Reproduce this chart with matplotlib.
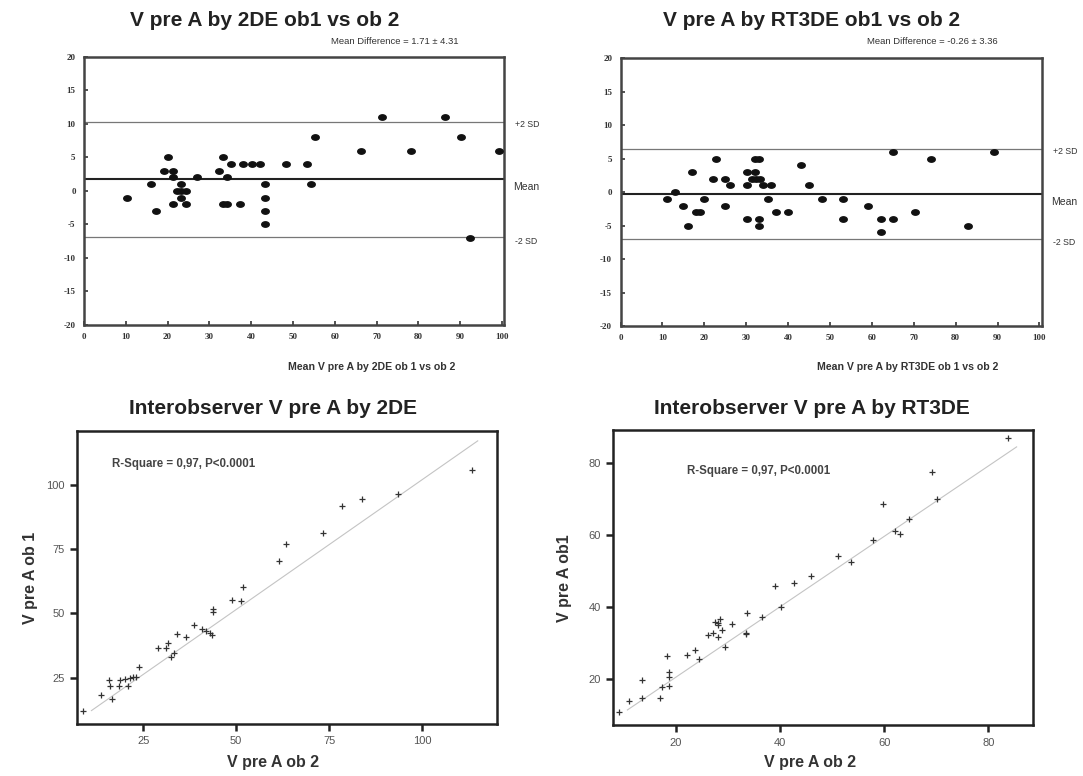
import numpy as np
import matplotlib.pyplot as plt
from matplotlib.path import Path

plt.rcParams["axes.unicode_minus"] = False

# -----------------------------
# Data
# -----------------------------
# Bland-Altman, 2DE: mean of ob1/ob2 vs difference
ba2d_mean = [10.2, 16.1, 17.2, 19.1, 20.1, 21.2, 21.2, 21.2, 23.3, 22.3, 23.3, 24.3,
             23.3, 24.3, 27.1, 32.2, 33.2, 34.2, 33.2, 34.2, 35.2, 37.4, 38.1, 40.2,
             42.1, 43.3, 43.3, 43.3, 43.3, 48.3, 53.3, 54.2, 55.2, 66.3, 71.3, 78.3,
             86.3, 90.3, 92.4, 99.3]
ba2d_diff = [-1, 1, -3, 3, 5, 3, 2, -2, 1, 0, 0, 0,
             -1, -2, 2, 3, 5, 2, -2, -2, 4, -2, 4, 4,
             4, 1, -1, -3, -5, 4, 4, 1, 8, 6, 11, 6,
             11, 8, -7, 6]
ba2d_md, ba2d_sd = 1.71, 4.31

# Bland-Altman, RT3DE
ba3d_mean = [11.0, 13.0, 15.0, 16.0, 17.1, 18.0, 19.0, 20.0, 22.0, 22.9, 25.0, 25.0,
             26.1, 30.1, 30.1, 30.1, 32.1, 32.1, 33.1, 31.3, 32.3, 33.3, 33.1, 33.1,
             34.0, 35.1, 36.0, 37.1, 40.1, 43.0, 45.1, 48.1, 53.1, 53.1, 59.0, 62.1,
             62.1, 65.0, 65.0, 70.2, 74.1, 83.0, 89.2]
ba3d_diff = [-1, 0, -2, -5, 3, -3, -3, -1, 2, 5, 2, -2,
             1, 3, 1, -4, 3, 5, 5, 2, 2, 2, -4, -5,
             1, -1, 1, -3, -3, 4, 1, -1, -1, -4, -2, -4,
             -6, 6, -4, -3, 5, -5, 6]
ba3d_md, ba3d_sd = -0.26, 3.36

# Regression, 2DE: ob2 (x) vs ob1 (y)
reg2d_x = [113.4, 93.5, 83.8, 78.3, 73.2, 63.5, 61.4, 51.7, 48.9, 51.2, 43.8, 43.8,
           38.7, 40.7, 42.0, 42.9, 43.6, 34.1, 36.5, 31.7, 31.1, 28.9, 33.2, 32.4,
           23.9, 23.2, 22.3, 21.4, 20.1, 18.7, 18.6, 20.8, 15.9, 16.1, 13.8, 16.5, 8.9]
reg2d_y = [105.6, 96.5, 94.4, 91.8, 81.4, 77.0, 70.4, 60.2, 55.3, 54.9, 51.7, 50.4,
           45.5, 43.8, 43.3, 42.5, 41.5, 42.0, 41.0, 38.6, 36.7, 36.7, 34.7, 33.2,
           29.1, 25.2, 25.2, 24.8, 24.4, 24.1, 21.8, 21.8, 24.1, 21.8, 18.3, 16.7, 12.1]
reg2d_slope, reg2d_icpt = 1.01, 1.0
reg2d_span = [11.1, 114.9]

# Regression, RT3DE
reg3d_x = [83.7, 69.1, 70.1, 59.7, 64.8, 62.1, 63.1, 57.8, 51.2, 53.6, 46.0, 42.7,
           39.1, 40.2, 33.7, 36.5, 28.5, 27.5, 28.1, 28.1, 30.7, 28.9, 27.2, 26.1,
           28.1, 33.4, 33.4, 29.5, 22.2, 23.7, 24.5, 18.4, 18.6, 18.6, 18.6, 17.4,
           13.6, 13.6, 16.9, 11.1, 9.1]
reg3d_y = [87.1, 77.6, 70.0, 68.6, 64.4, 61.2, 60.3, 58.6, 54.2, 52.4, 48.7, 46.8,
           45.8, 39.9, 38.2, 37.1, 36.6, 35.9, 35.6, 35.0, 35.3, 33.6, 32.9, 32.2,
           31.6, 32.9, 32.4, 28.8, 26.7, 28.1, 25.6, 26.4, 22.0, 20.6, 18.1, 17.9,
           19.7, 14.8, 14.8, 13.9, 10.9]
reg3d_slope, reg3d_icpt = 0.979, 0.9
reg3d_span = [10.7, 85.4]

W, H = 1083, 776
sans = ["Liberation Sans", "DejaVu Sans"]
serif = ["Liberation Serif", "DejaVu Serif"]

# flat dot, like the original scatter symbol
_t = np.linspace(0, 2 * np.pi, 40)
ellipse = Path(np.column_stack([np.cos(_t), 0.72 * np.sin(_t)]))


def fx(px):
    return px / W


def fy(py):
    return 1 - py / H


fig = plt.figure(figsize=(W / 100, H / 100), dpi=100, facecolor="white")


# -----------------------------
# Bland-Altman panels
# -----------------------------
def bland_altman(rect, mean, diff, md, sd, title, tcx, mtxt, mcx, xlab, xcx):
    ax = fig.add_axes(rect)
    lo, hi = md - 2 * sd, md + 2 * sd
    ax.axhline(hi, color="#777777", lw=0.9)
    ax.axhline(md, color="#222222", lw=1.5)
    ax.axhline(lo, color="#777777", lw=0.9)
    ax.plot(mean, diff, ls="none", marker=ellipse, color="#111111", ms=5.4,
            mec="#111111", clip_on=False, zorder=3)
    ax.set_xlim(0, 100.5)
    ax.set_ylim(-20, 20)
    ax.set_xticks(np.arange(0, 101, 10))
    ax.set_yticks(np.arange(-20, 21, 5))
    ax.tick_params(direction="in", length=3, width=1.2, color="#333333",
                   labelsize=6.5, labelcolor="#333333", pad=6)
    for lab in ax.get_xticklabels() + ax.get_yticklabels():
        lab.set_family(serif)
        lab.set_fontweight("bold")
    for s in ax.spines.values():
        s.set_linewidth(1.8)
        s.set_color("#444444")
    tr = ax.get_yaxis_transform()
    ax.text(1.027, hi - 0.4, "+2 SD", transform=tr, fontsize=6.3, family=sans,
            color="#333333", va="center", ha="left", clip_on=False)
    ax.text(1.022, md - 1.2, "Mean", transform=tr, fontsize=7.5, family=sans,
            color="#333333", va="center", ha="left", clip_on=False)
    ax.text(1.027, lo - 0.6, "-2 SD", transform=tr, fontsize=6.3, family=sans,
            color="#333333", va="center", ha="left", clip_on=False)
    fig.text(fx(tcx), fy(20), title, fontsize=15, fontweight="bold", family=sans,
             color="#222222", ha="center", va="center")
    fig.text(fx(mcx), fy(42), mtxt, fontsize=6.8, family=sans, color="#333333",
             ha="center", va="center")
    fig.text(fx(xcx), fy(367), xlab, fontsize=7.6, fontweight="bold", family=sans,
             color="#333333", ha="center", va="center")
    return ax


bland_altman([fx(84), fy(325), fx(420), 268.3 / H], ba2d_mean, ba2d_diff, ba2d_md, ba2d_sd,
             "V pre A by 2DE ob1 vs ob 2", 265,
             "Mean Difference = %.2f \u00b1 %.2f" % (ba2d_md, ba2d_sd), 395,
             "Mean V pre A by 2DE ob 1 vs ob 2", 372)
bland_altman([fx(620.5), fy(326), fx(421), 267.7 / H], ba3d_mean, ba3d_diff, ba3d_md, ba3d_sd,
             "V pre A by RT3DE ob1 vs ob 2", 812,
             "Mean Difference = %.2f \u00b1 %.2f" % (ba3d_md, ba3d_sd), 932,
             "Mean V pre A by RT3DE ob 1 vs ob 2", 908)


# -----------------------------
# Regression panels
# -----------------------------
def regression(rect, x, y, slope, icpt, span, xlim, ylim, ticks, title, tcx,
               ylab, ylx, xcx, rtx, rty):
    ax = fig.add_axes(rect)
    xs = np.array(span)
    ax.plot(xs, slope * xs + icpt, color="#c4c4c4", lw=0.8)
    ax.plot(x, y, "+", color="#333333", ms=4, mew=0.9)
    ax.set_xlim(*xlim)
    ax.set_ylim(*ylim)
    ax.set_xticks(ticks)
    ax.set_yticks(ticks)
    ax.tick_params(direction="out", length=5, width=1.8, color="#222222",
                   labelsize=8, labelcolor="#555555", pad=4)
    for lab in ax.get_xticklabels() + ax.get_yticklabels():
        lab.set_family(sans)
    for s in ax.spines.values():
        s.set_linewidth(1.8)
        s.set_color("#222222")
    ax.text(rtx, rty, "R-Square = 0,97, P<0.0001", transform=ax.transAxes,
            fontsize=8.3, fontweight="bold", family=sans, color="#444444",
            ha="left", va="center")
    fig.text(fx(tcx), fy(408), title, fontsize=15, fontweight="bold", family=sans,
             color="#222222", ha="center", va="center")
    fig.text(fx(xcx), fy(763), "V pre A ob 2", fontsize=11.5, fontweight="bold",
             family=sans, color="#333333", ha="center", va="center")
    fig.text(fx(ylx), fy(578), ylab, fontsize=11.5, fontweight="bold", family=sans,
             color="#333333", ha="center", va="center", rotation=90)
    return ax


regression([fx(77.3), fy(724), fx(419.4), 293.3 / H], reg2d_x, reg2d_y,
           reg2d_slope, reg2d_icpt, reg2d_span, (7.3, 120), (7, 121), [25, 50, 75, 100],
           "Interobserver V pre A by 2DE", 273, "V pre A ob 1", 31, 273, 0.083, 0.885)
regression([fx(613.3), fy(725), fx(420), 295 / H], reg3d_x, reg3d_y,
           reg3d_slope, reg3d_icpt, reg3d_span, (8.0, 88.6), (7.2, 89.2), [20, 40, 60, 80],
           "Interobserver V pre A by RT3DE", 812, "V pre A ob1", 564, 810, 0.175, 0.86)

fig.savefig("out.png", dpi=100, facecolor="white")
